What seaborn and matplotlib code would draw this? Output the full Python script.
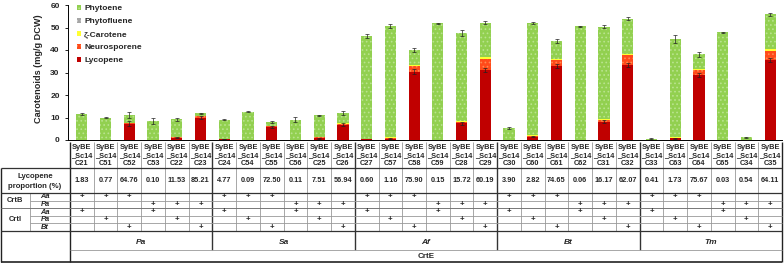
import numpy as np
import pandas as pd
import matplotlib
matplotlib.use("Agg")
import matplotlib.pyplot as plt
import seaborn as sns
from matplotlib.patches import Patch

# ---------------- data ----------------
strains = ["C21", "C51", "C52", "C53", "C22", "C23", "C24", "C54", "C55", "C56",
           "C25", "C26", "C27", "C57", "C58", "C59", "C28", "C29", "C30", "C60",
           "C61", "C62", "C31", "C32", "C33", "C63", "C64", "C65", "C34", "C35"]
lycopene = [0.21, 0.08, 7.3, 0.01, 1.06, 10.0, 0.43, 0.01, 5.8, 0.01,
            0.83, 6.8, 0.28, 0.59, 30.4, 0.08, 7.4, 31.3, 0.21, 1.46,
            32.8, 0.03, 8.1, 33.3, 0.0, 0.77, 28.8, 0.01, 0.01, 35.6]
neurosporene = [0.0, 0.0, 0.3, 0.0, 0.2, 0.6, 0.1, 0.0, 0.4, 0.0,
                0.3, 0.5, 0.1, 0.3, 2.4, 0.0, 0.7, 4.5, 0.0, 0.3,
                2.6, 0.0, 0.6, 4.5, 0.0, 0.3, 2.2, 0.0, 0.0, 4.0]
zeta_carotene = [0.0, 0.0, 0.1, 0.0, 0.1, 0.2, 0.0, 0.0, 0.1, 0.0,
                 0.1, 0.2, 0.1, 0.4, 0.5, 0.0, 0.5, 1.0, 0.0, 0.6,
                 0.5, 0.0, 0.5, 0.5, 0.0, 0.4, 0.4, 0.0, 0.0, 0.8]
phytofluene = [0.0] * 30
phytoene = [11.4, 9.8, 3.5, 8.3, 7.8, 1.0, 8.5, 12.5, 1.7, 9.1,
            9.8, 4.5, 45.7, 49.5, 6.7, 51.7, 39.0, 15.4, 5.1, 49.6,
            8.1, 50.5, 41.1, 15.7, 0.5, 43.3, 6.7, 47.9, 1.2, 15.4]
total_err = [0.6, 0.3, 1.2, 1.3, 0.6, 0.3, 0.3, 0.2, 0.6, 1.0,
             0.2, 0.7, 1.0, 0.8, 0.8, 0.2, 1.4, 0.8, 0.3, 0.6,
             0.8, 0.3, 0.6, 0.7, 0.2, 1.8, 1.2, 0.2, 0.3, 0.7]
lyc_err = [0.0, 0.0, 1.0, 0.0, 0.2, 0.6, 0.1, 0.0, 0.5, 0.0,
           0.2, 0.6, 0.0, 0.2, 1.2, 0.0, 0.6, 0.9, 0.0, 0.3,
           1.0, 0.0, 0.6, 0.9, 0.0, 0.2, 0.8, 0.0, 0.0, 1.0]
lyc_prop = ["1.83", "0.77", "64.76", "0.10", "11.53", "85.21", "4.77", "0.09", "72.50", "0.11",
            "7.51", "56.94", "0.60", "1.16", "75.90", "0.15", "15.72", "60.19", "3.90", "2.82",
            "74.65", "0.06", "16.17", "62.07", "0.41", "1.73", "75.67", "0.03", "0.54", "64.11"]
crtB_Aa = [1, 1, 1, 0, 0, 0, 1, 1, 1, 0, 0, 0, 1, 1, 1, 0, 0, 0, 1, 1, 1, 0, 0, 0, 1, 1, 1, 0, 0, 0]
crtB_Pa = [0, 0, 0, 1, 1, 1, 0, 0, 0, 1, 1, 1, 0, 0, 0, 1, 1, 1, 0, 0, 0, 1, 1, 1, 0, 0, 0, 1, 1, 1]
crtI_Aa = [1, 0, 0, 1, 0, 0, 1, 0, 0, 1, 0, 0, 1, 0, 0, 1, 0, 0, 1, 0, 0, 1, 0, 0, 1, 0, 0, 1, 0, 0]
crtI_Pa = [0, 1, 0, 0, 1, 0, 0, 1, 0, 0, 1, 0, 0, 1, 0, 0, 1, 0, 0, 1, 0, 0, 1, 0, 0, 1, 0, 0, 1, 0]
crtI_Bt = [0, 0, 1, 0, 0, 1, 0, 0, 1, 0, 0, 1, 0, 0, 1, 0, 0, 1, 0, 0, 1, 0, 0, 1, 0, 0, 1, 0, 0, 1]
crtE_species = ["Pa", "Sa", "Af", "Bt", "Tm"]
legend_labels = ["Phytoene", "Phytofluene", "ζ-Carotene", "Neurosporene", "Lycopene"]

# ---------------- style ----------------
sns.set_theme(style="white")
plt.rcParams["font.family"] = ["Liberation Sans", "DejaVu Sans"]
plt.rcParams["font.weight"] = "bold"
plt.rcParams["hatch.linewidth"] = 0.7

WPX, HPX = 784, 264
fig = plt.figure(figsize=(WPX / 100, HPX / 100), dpi=100)
AXL, AXR, AXT, AXB = 68, 782, 5, 140
COL0 = 70
NCOL = len(strains)
CW = (AXR - COL0) / NCOL
ax = fig.add_axes([AXL / WPX, 1 - AXB / HPX, (AXR - AXL) / WPX, (AXB - AXT) / HPX])

df = pd.DataFrame({"strain": strains, "Lycopene": lycopene, "Neurosporene": neurosporene,
                   "zeta": zeta_carotene, "Phytofluene": phytofluene, "Phytoene": phytoene})
df["c1"] = df["Lycopene"]
df["c2"] = df["c1"] + df["Neurosporene"]
df["c3"] = df["c2"] + df["zeta"]
df["c4"] = df["c3"] + df["Phytofluene"]
df["c5"] = df["c4"] + df["Phytoene"]

colors = {"Phytoene": "#92D050", "Phytofluene": "#A6A6A6", "zeta": "#FFFF33",
          "Neurosporene": "#FF4A1A", "Lycopene": "#C00000"}
hatchcol = {"Phytoene": "#B9E38E", "Phytofluene": "#CFCFCF", "zeta": "#FFFF33",
            "Neurosporene": "#FF8A50", "Lycopene": "#C00000"}
hatches = {"Phytoene": "....", "Phytofluene": "....", "zeta": None,
           "Neurosporene": "....", "Lycopene": None}

layers = [("c5", "Phytoene"), ("c4", "Phytofluene"), ("c3", "zeta"),
          ("c2", "Neurosporene"), ("c1", "Lycopene")]
for col, name in layers:
    sns.barplot(data=df, x="strain", y=col, color=colors[name], saturation=1,
                width=0.47, errorbar=None, ax=ax, linewidth=0,
                edgecolor=hatchcol[name], hatch=hatches[name])

xpos = np.arange(NCOL)
ax.errorbar(xpos, df["c5"], yerr=total_err, fmt="none", ecolor="#222222",
            elinewidth=0.5, capsize=1.5, capthick=0.5, zorder=5)
mask = np.array(lyc_err) > 0
ax.errorbar(xpos[mask], df["c1"][mask], yerr=np.array(lyc_err)[mask], fmt="none",
            ecolor="#222222", elinewidth=0.5, capsize=1.5, capthick=0.5, zorder=5)

ax.set_xlim(-0.5 - (COL0 - AXL) / CW, NCOL - 0.5)
ax.set_ylim(0, 60)
ax.set_yticks(range(0, 61, 10))
ax.set_yticklabels([str(v) for v in range(0, 61, 10)], fontsize=6.0, fontweight="bold")
ax.set_xticks([])
ax.set_xlabel("")
ax.set_ylabel("Carotenoids (mg/g DCW)", fontsize=6.6, fontweight="bold")
ax.yaxis.set_label_coords((43 - AXL) / (AXR - AXL), (AXB - 69) / (AXB - AXT))
ax.tick_params(axis="y", left=True, length=2, width=0.6, direction="out", pad=4, color="black")
for s in ["top", "right"]:
    ax.spines[s].set_visible(False)
for s in ["left", "bottom"]:
    ax.spines[s].set_color("black")
    ax.spines[s].set_linewidth(0.7)

handles = [Patch(facecolor=colors[k], edgecolor=hatchcol[k], hatch=hatches[k], linewidth=0)
           for k in ["Phytoene", "Phytofluene", "zeta", "Neurosporene", "Lycopene"]]
leg = ax.legend(handles, legend_labels, loc="upper left",
                bbox_to_anchor=((77 - AXL) / (AXR - AXL), (AXB - 5) / (AXB - AXT)),
                frameon=False, fontsize=6.0, handlelength=0.5, handleheight=0.5,
                handletextpad=0.35, labelspacing=0.68, borderpad=0, borderaxespad=0)
for t in leg.get_texts():
    t.set_fontweight("bold")

# ---------------- table ----------------
tab = fig.add_axes([0, 0, 1, 1])
tab.set_xlim(0, WPX)
tab.set_ylim(HPX, 0)
tab.axis("off")
tab.patch.set_alpha(0)

def hline(y, x0, x1, lw=0.6, c="#999999"):
    tab.plot([x0, x1], [y, y], color=c, lw=lw, solid_capstyle="butt")

def vline(x, y0, y1, lw=0.6, c="#999999"):
    tab.plot([x, x], [y0, y1], color=c, lw=lw, solid_capstyle="butt")

Y_STR, Y_LYC = 140, 168
rows = [193, 200.6, 208.2, 215.8, 223.4, 231]
Y_SP, Y_BOT = 250, 262
LX, SUBX = 1, 30
colx = [COL0 + i * CW for i in range(NCOL + 1)]

# vertical separators
for i in range(1, NCOL):
    grp = (i % 6 == 0)
    vline(colx[i], 142, rows[-1] if not grp else Y_SP,
          lw=1.0 if grp else 0.6, c="#333333" if grp else "#999999")
vline(colx[0], 142, Y_BOT, lw=1.0, c="#222222")
vline(colx[-1], 142, Y_BOT, lw=1.0, c="#222222")
vline(LX, Y_LYC, Y_BOT, lw=1.0, c="#222222")
vline(SUBX, rows[0], rows[-1], lw=0.6, c="#999999")

# horizontal lines
hline(Y_LYC, LX, colx[-1], lw=0.9, c="#333333")
hline(rows[0], LX, colx[-1], lw=0.9, c="#333333")
hline(rows[1], SUBX, colx[-1])
hline(rows[2], LX, colx[-1], lw=0.7, c="#777777")
hline(rows[3], SUBX, colx[-1])
hline(rows[4], SUBX, colx[-1])
hline(rows[5], LX, colx[-1], lw=0.9, c="#333333")
hline(Y_SP, colx[0], colx[-1], lw=0.6, c="#999999")
hline(Y_BOT, LX, colx[-1], lw=1.2, c="#222222")

# strain names
for i, s in enumerate(strains):
    cx = COL0 + (i + 0.5) * CW
    for txt, yy in zip(["SyBE", "_Sc14", s], [147.5, 155.5, 163.5]):
        tab.text(cx, yy, txt, ha="center", va="center", fontsize=5.3, fontweight="bold")
    tab.text(cx, 181, lyc_prop[i], ha="center", va="center", fontsize=5.3, fontweight="bold")

tab.text(35, 176.5, "Lycopene", ha="center", va="center", fontsize=5.6, fontweight="bold")
tab.text(35, 186, "proportion (%)", ha="center", va="center", fontsize=5.6, fontweight="bold")
tab.text(15, (rows[0] + rows[2]) / 2, "CrtB", ha="center", va="center", fontsize=5.4, fontweight="bold")
tab.text(15, (rows[2] + rows[5]) / 2, "CrtI", ha="center", va="center", fontsize=5.4, fontweight="bold")

gene_rows = [("Aa", crtB_Aa), ("Pa", crtB_Pa), ("Aa", crtI_Aa), ("Pa", crtI_Pa), ("Bt", crtI_Bt)]
for r, (lab, flags) in enumerate(gene_rows):
    cy = (rows[r] + rows[r + 1]) / 2
    tab.text(45, cy, lab, ha="center", va="center", fontsize=5.4, fontweight="bold", style="italic")
    for i, f in enumerate(flags):
        if f:
            tab.text(COL0 + (i + 0.5) * CW, cy, "+", ha="center", va="center",
                     fontsize=5.6, fontweight="bold")

for g, sp in enumerate(crtE_species):
    cx = COL0 + (g * 6 + 3) * CW
    tab.text(cx, 243, sp, ha="center", va="center", fontsize=6,
             fontweight="bold", style="italic")
tab.text((colx[0] + colx[-1]) / 2, (Y_SP + Y_BOT) / 2, "CrtE", ha="center", va="center",
         fontsize=5.8, fontweight="bold")

fig.savefig("out.png", dpi=100)
